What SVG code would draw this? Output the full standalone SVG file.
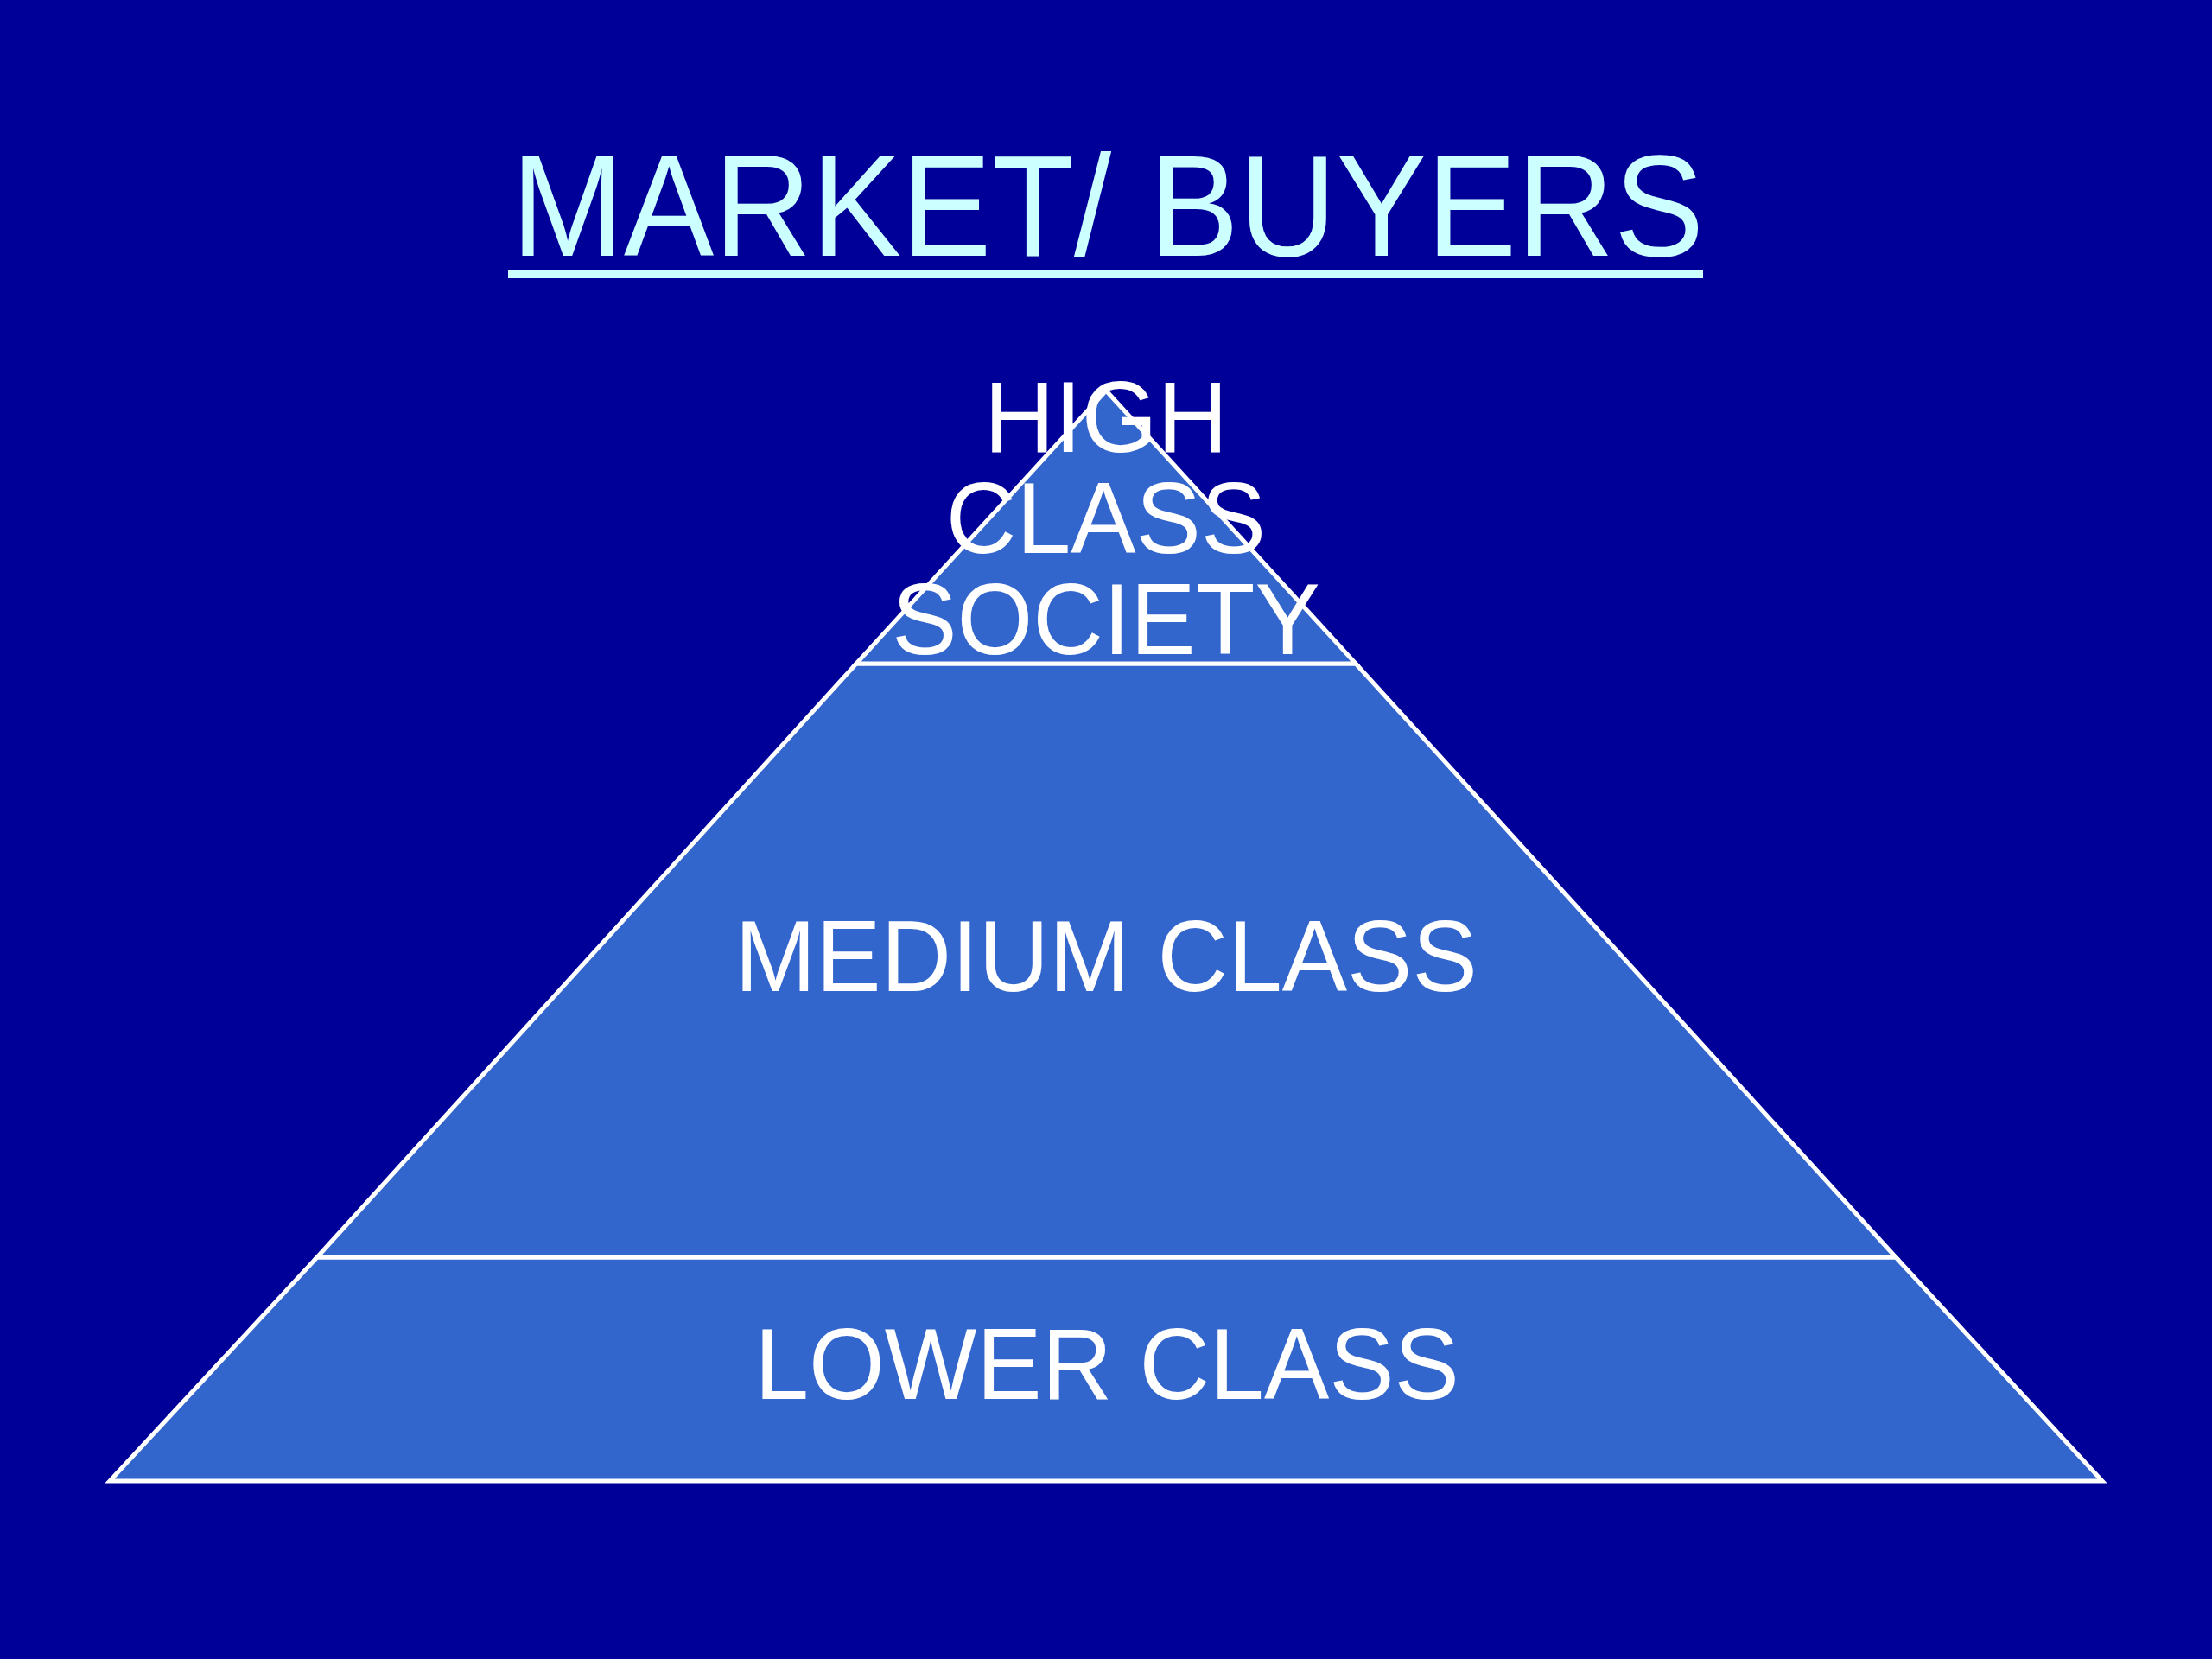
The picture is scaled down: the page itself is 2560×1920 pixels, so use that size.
<svg xmlns="http://www.w3.org/2000/svg" width="2560" height="1920" viewBox="0 0 2560 1920">
<style>
.band{fill:#3366CC;stroke:#FFFFFF;stroke-width:5;stroke-linejoin:miter}
.lbl{font-family:"Liberation Sans",Arial,sans-serif;font-size:117px;fill:#FFFFFF;text-anchor:middle}
.title{font-family:"Liberation Sans",Arial,sans-serif;font-size:168px;fill:#CCFFFF;text-anchor:middle}
</style>
<rect x="0" y="0" width="2560" height="1920" fill="#000099"/>
<g id="title">
<text class="title" transform="translate(1282,296) scale(0.93,1)" x="0" y="0">MARKET/ BUYERS</text>
<rect x="588" y="312" width="1383" height="10" fill="#CCFFFF"/>
</g>
<g id="lower">
<polygon class="band" points="367,1455 2194,1455 2433,1714 127,1714"/>
<text class="lbl" transform="translate(1281,1619) scale(0.965,1)" x="0" y="0">LOWER CLASS</text>
</g>
<g id="medium">
<polygon class="band" points="991,768 1569,768 2194,1455 367,1455"/>
<text class="lbl" transform="translate(1280,1147) scale(0.965,1)" x="0" y="0">MEDIUM CLASS</text>
</g>
<g id="high">
<polygon class="band" points="1280,452 1569,768 991,768"/>
<text class="lbl" transform="translate(1280,523) scale(0.965,1)" x="0" y="0">HIGH</text>
<text class="lbl" transform="translate(1280,640) scale(0.965,1)" x="0" y="0">CLASS</text>
<text class="lbl" transform="translate(1280,757) scale(0.965,1)" x="0" y="0">SOCIETY</text>
</g>
<g id="connectors"/>
</svg>
